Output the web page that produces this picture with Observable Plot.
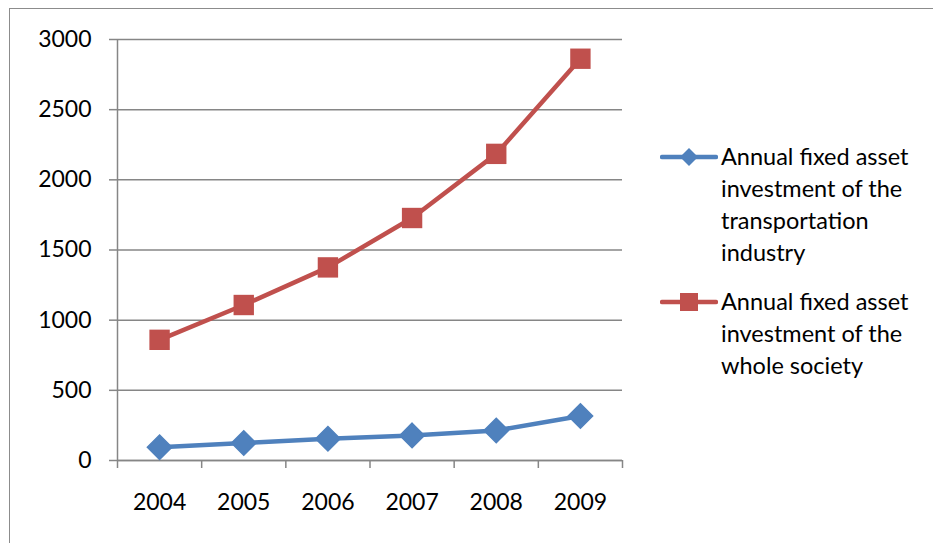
<!DOCTYPE html>
<html>
<head>
<meta charset="utf-8">
<script src="https://cdn.jsdelivr.net/npm/d3@7"></script>
<script src="https://cdn.jsdelivr.net/npm/@observablehq/plot@0.6"></script>
<style>
  html, body { margin: 0; padding: 0; background: #fff; }
  #wrap { position: relative; width: 933px; height: 543px; overflow: hidden; font-family: Lato, "Open Sans", sans-serif; }
  #frame { position: absolute; left: 9px; top: 8px; width: 960px; height: 580px; border: 1.5px solid #8c8c8c; box-sizing: border-box; }
  #chart { position: absolute; left: 0; top: 0; }
  #legend { position: absolute; left: 660px; top: 140px; font-size: 23.5px; color: #000; line-height: 32px; }
  .item { display: flex; align-items: flex-start; margin-bottom: 17px; }
  .item svg { flex: none; margin-top: 2px; }
  .item .lab { margin-left: 3px; width: 215px; }
</style>
</head>
<body>
<div id="wrap">
  <div id="frame"></div>
  <div id="chart"></div>
  <div id="legend"></div>
</div>
<script>
const years = [2004, 2005, 2006, 2007, 2008, 2009];
const transport = [95, 124, 155, 179, 214, 317];
const society = [860, 1108, 1376, 1728, 2185, 2863];
const yTicks = [0, 500, 1000, 1500, 2000, 2500, 3000];
const seriesNames = [
  "Annual fixed asset investment of the transportation industry",
  "Annual fixed asset investment of the whole society"
];
const colors = ["#4F81BD", "#C0504D"];

const boundaries = [2003.5, 2004.5, 2005.5, 2006.5, 2007.5, 2008.5, 2009.5];
const tData = years.map((y, i) => ({year: y, value: transport[i]}));
const sData = years.map((y, i) => ({year: y, value: society[i]}));

const chart = Plot.plot({
  width: 933,
  height: 543,
  marginLeft: 117,
  marginRight: 311,
  marginTop: 39,
  marginBottom: 83,
  style: {fontFamily: "Lato, 'Open Sans', sans-serif", fontSize: "23px", color: "#000", background: "transparent"},
  x: {domain: [2003.5, 2009.5]},
  y: {domain: [0, 3000]},
  marks: [
    Plot.gridY(yTicks, {stroke: "#868686", strokeOpacity: 1, strokeWidth: 1.5}),
    Plot.axisY({ticks: yTicks, tickSize: 8, tickPadding: 18, tickFormat: d => String(d), stroke: "#868686", strokeWidth: 1.5, fill: "#000", label: null}),
    Plot.ruleX([2003.5], {y1: 0, y2: 3000, stroke: "#868686", strokeWidth: 1.5}),
    Plot.ruleY([0], {stroke: "#868686", strokeWidth: 1.5}),
    Plot.axisX({ticks: boundaries, tickSize: 8, tickFormat: () => "", stroke: "#868686", strokeWidth: 1.5, label: null}),
    Plot.axisX({ticks: years, tickSize: 0, tickPadding: 33, tickFormat: d => String(d), fill: "#000", label: null}),
    Plot.line(tData, {x: "year", y: "value", stroke: colors[0], strokeWidth: 4.5}),
    Plot.dot(tData, {x: "year", y: "value", symbol: "diamond2", r: 11, fill: colors[0], stroke: colors[0]}),
    Plot.line(sData, {x: "year", y: "value", stroke: colors[1], strokeWidth: 4.5}),
    Plot.dot(sData, {x: "year", y: "value", symbol: "square", r: 11.5, fill: colors[1]})
  ]
});
document.getElementById("chart").appendChild(chart);

// Legend
const legend = d3.select("#legend");
seriesNames.forEach((name, i) => {
  const item = legend.append("div").attr("class", "item");
  const svg = item.append("svg").attr("width", 58).attr("height", 30);
  svg.append("line").attr("x1", 2).attr("x2", 56).attr("y1", 15).attr("y2", 15)
    .attr("stroke", colors[i]).attr("stroke-width", 4.5).attr("stroke-linecap", "round");
  if (i === 0) {
    svg.append("path").attr("d", "M29,6 L38,15 L29,24 L20,15 Z").attr("fill", colors[i]);
  } else {
    svg.append("rect").attr("x", 20).attr("y", 6).attr("width", 18).attr("height", 18).attr("fill", colors[i]);
  }
  item.append("div").attr("class", "lab").text(name);
});
</script>
</body>
</html>
